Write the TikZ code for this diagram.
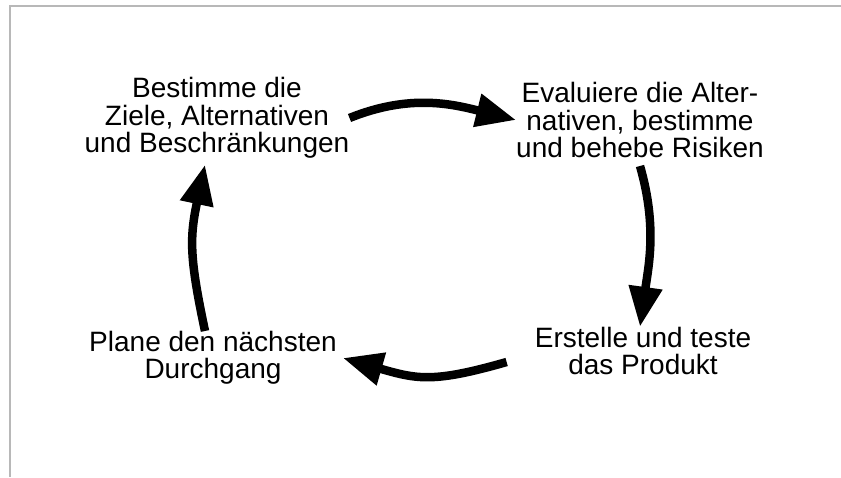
\documentclass[tikz,border=0pt]{standalone}
\usepackage{fontspec}
\setmainfont{Liberation Sans}
\usetikzlibrary{arrows.meta}
\definecolor{rahmen}{gray}{0.72}
\begin{document}
\begin{tikzpicture}[x=1pt,y=-1pt,
    txt/.style={align=center,inner sep=0pt,font=\fontsize{28}{27.5}\selectfont},
    pfeil/.style={line width=8.5pt,-{Triangle[length=40pt,width=32pt]}}]
                \useasboundingbox (0,0) rectangle (841,477);
                \draw[rahmen,line width=1.6pt] (841,6) -- (10,6) -- (10,477);
                % die vier Schritte
                \node[txt] (ziele) at (217,118) {Bestimme die\\Ziele, Alternativen\\und Beschränkungen};
                \node[txt] (risiko) at (640,120) {Evaluiere die Alter-\\nativen, bestimme\\und behebe Risiken};
                \node[txt] (produkt) at (643,351) {Erstelle und teste\\das Produkt};
                \node[txt] (plan) at (213,358) {Plane den nächsten\\Durchgang};
                % Kreislauf
                \draw[pfeil] (ziele.east) to[out=22,in=166] (risiko.west);
                \draw[pfeil] ([yshift=-8pt]risiko.south) to[out=-74,in=82] ([xshift=-3pt]produkt.north);
                \draw[pfeil] ([xshift=-28pt,yshift=-11pt]produkt.west) to[out=196,in=-16,looseness=1.2] ([xshift=6pt]plan.east);
                \draw[pfeil] ([xshift=-8pt]plan.north) to[out=102,in=-102,looseness=1.15] ([xshift=-12pt,yshift=-6pt]ziele.south);
            \end{tikzpicture}
\end{document}
